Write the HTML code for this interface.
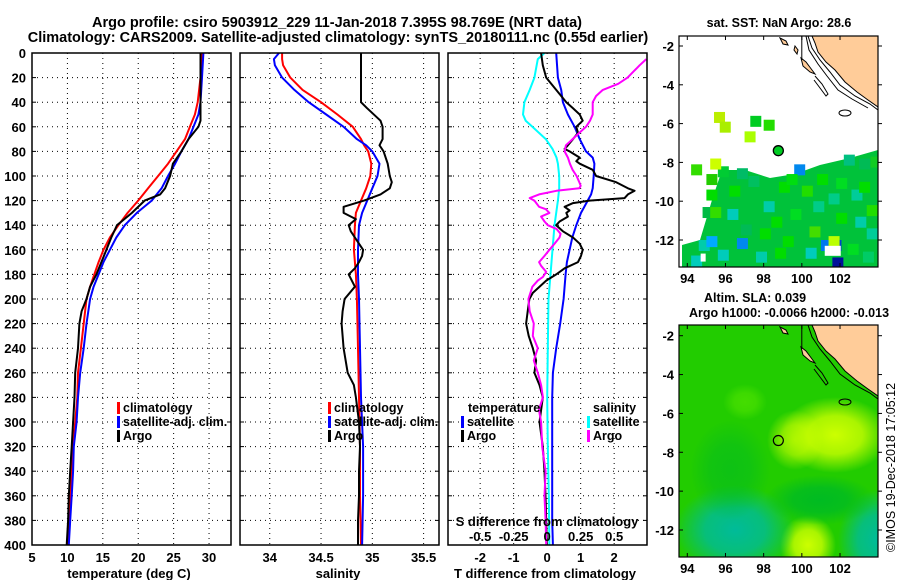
<!DOCTYPE html>
<html><head><meta charset="utf-8">
<style>
html,body{margin:0;padding:0;background:#fff;}
svg{display:block;font-family:"Liberation Sans",Arial,sans-serif;font-weight:bold;}
</style></head>
<body>
<svg id="chart" width="900" height="580" viewBox="0 0 900 580" xmlns="http://www.w3.org/2000/svg">
<text x="337" y="27" text-anchor="middle" font-size="14.5">Argo profile: csiro 5903912_229 11-Jan-2018 7.395S 98.769E (NRT data)</text>
<text x="338" y="42" text-anchor="middle" font-size="14.5">Climatology: CARS2009. Satellite-adjusted climatology: synTS_20180111.nc (0.55d earlier)</text>
<g id="plots"></g>
<g id="maps"></g>
</svg>
<script>
// ---------- data ----------
const depthTicks=[0,20,40,60,80,100,120,140,160,180,200,220,240,260,280,300,320,340,360,380,400];
const tempTicks=[5,10,15,20,25,30];
const salTicks=[34,34.5,35,35.5];
const tdiffTicks=[-2,-1,0,1,2];
const sdiffTicks=[-0.5,-0.25,0,0.25,0.5];
const sdiffLabels=["-0.5","-0.25","0","0.25","0.5"];

const argoTDepth=[0,20,40,55,60,70,80,90,100,110,115,120,130,140,150,160,170,180,190,200,210,220,240,260,280,300,320,340,360,380,400];
const argoT=[28.8,28.8,28.8,28.8,28.5,27.1,26.1,24.9,24.5,23.8,23.1,20.9,19.1,17.0,16.2,15.5,14.8,14.1,13.2,12.7,12.0,11.7,11.5,11.1,11.0,10.8,10.6,10.4,10.2,10.1,9.9];
const climDepth=[0,20,40,50,60,70,80,90,100,110,120,130,140,150,160,170,180,190,200,220,240,260,280,300,320,340,360,380,400];
const climT=[29.0,28.8,28.4,28.0,27.3,26.6,25.4,24.2,22.8,21.4,20.0,18.5,17.2,16.0,15.1,14.4,13.8,13.2,12.7,12.3,11.9,11.5,11.4,11.1,10.8,10.6,10.4,10.3,10.1];
const satT=[29.2,29.0,28.8,28.5,27.8,27.1,26.1,25.2,24.2,23.3,21.9,19.8,18.1,16.9,16.0,15.1,14.4,13.7,13.2,12.7,12.3,11.8,11.5,11.3,10.9,10.8,10.6,10.4,10.2];

const argoSDepth=[0,20,40,45,55,60,70,75,80,90,100,105,110,115,120,125,130,135,140,145,150,155,160,165,170,175,180,185,190,200,210,220,240,260,270,280,300,320,340,360,380,400];
const argoS=[34.89,34.89,34.89,34.95,35.08,35.10,35.10,35.07,35.11,35.15,35.17,35.19,35.17,35.08,34.92,34.72,34.72,34.84,34.77,34.79,34.83,34.87,34.91,34.90,34.87,34.83,34.77,34.80,34.83,34.73,34.71,34.70,34.72,34.76,34.82,34.84,34.87,34.88,34.87,34.87,34.86,34.86];
const climSDepth=[0,5,10,20,30,40,50,60,70,75,80,90,100,110,120,130,140,160,180,200,240,280,320,360,400];
const climS=[34.12,34.12,34.13,34.20,34.32,34.50,34.66,34.81,34.89,34.92,34.96,34.99,34.98,34.94,34.89,34.84,34.83,34.82,34.84,34.85,34.86,34.87,34.88,34.88,34.89];
const satS=[34.09,34.04,34.05,34.12,34.24,34.38,34.55,34.72,34.85,34.94,35.00,35.07,35.05,35.00,34.95,34.90,34.87,34.86,34.86,34.87,34.88,34.89,34.91,34.91,34.90];

const tdArgoDepth=[0,10,20,30,40,45,50,55,60,65,70,75,78,80,85,88,90,95,100,105,110,112,115,118,120,122,125,128,130,133,137,140,145,150,155,160,165,170,175,180,185,190,195,200,210,220,230,240,250,260,270,280,300,320,340,360,380,400];
const tdArgo=[-0.18,-0.13,-0.03,0.27,0.57,0.77,0.97,1.06,0.87,0.92,0.77,0.62,0.52,0.67,0.97,0.87,0.97,1.36,1.46,2.06,2.41,2.61,2.41,2.31,1.26,0.77,0.52,0.67,0.57,0.62,0.37,0.27,0.47,0.77,0.97,1.06,1.01,0.92,0.52,0.27,-0.03,-0.23,-0.43,-0.53,-0.58,-0.63,-0.55,-0.43,-0.33,-0.38,-0.23,-0.13,-0.23,-0.13,-0.08,-0.05,-0.03,-0.01];
const tdSatDepth=[0,20,30,40,50,60,70,80,85,90,100,110,115,120,130,140,150,160,170,180,200,220,240,260,280,300,340,380,400];
const tdSat=[0.27,0.32,0.42,0.47,0.62,0.82,0.97,1.16,1.36,1.41,1.39,1.36,1.31,1.21,1.01,0.87,0.75,0.67,0.59,0.55,0.49,0.39,0.27,0.17,0.15,0.15,0.15,0.15,0.17];
const sdSatDepth=[0,5,20,30,40,50,55,60,70,78,85,90,100,110,120,140,160,180,200,240,280,320,360,400];
const sdSat=[-0.02,-0.07,-0.095,-0.13,-0.17,-0.18,-0.16,-0.11,-0.01,0.04,0.07,0.08,0.09,0.09,0.08,0.055,0.04,0.025,0.01,0.005,0.0,0.005,0.012,0.017];
const sdArgoDepth=[5,10,20,25,30,35,40,45,50,55,60,65,70,75,80,85,90,95,100,105,108,110,112,115,118,120,125,127,130,133,137,140,143,147,150,155,160,165,170,173,178,182,185,190,200,210,220,230,240,250,260,270,280,290,300,320,340,360,380,400];
const sdArgo=[0.74,0.69,0.60,0.53,0.415,0.365,0.34,0.34,0.34,0.32,0.29,0.24,0.19,0.14,0.13,0.155,0.17,0.19,0.22,0.24,0.25,0.24,0.07,-0.06,-0.13,-0.095,-0.06,-0.01,0.017,-0.045,-0.02,0.005,0.07,0.10,0.092,0.055,0.017,-0.02,-0.06,-0.045,-0.007,-0.032,-0.07,-0.11,-0.14,-0.13,-0.10,-0.107,-0.07,-0.10,-0.07,-0.045,-0.032,-0.062,-0.045,-0.037,-0.012,-0.02,-0.012,-0.007];

// ---------- helpers ----------
const NS="http://www.w3.org/2000/svg";
function mk(tag,attrs,parent){const e=document.createElementNS(NS,tag);for(const k in attrs)e.setAttribute(k,attrs[k]);parent.appendChild(e);return e;}
const plots=document.getElementById('plots');
const Y0=53,Y1=545;
function yD(d){return Y0+(Y1-Y0)*d/400;}
const panels=[
 {name:'temperature',x0:32,x1:231,min:5,max:33.1},
 {name:'salinity',x0:240,x1:439,min:33.71,max:35.65},
 {name:'difference',x0:448,x1:647,min:-2.96,max:2.98}
];
function sx(p,v){return p.x0+(v-p.min)/(p.max-p.min)*(p.x1-p.x0);}
function sxS(p,s){return sx(p,s*4);}

depthTicks.forEach(d=>{const t=mk('text',{x:26,y:yD(d)+5,'text-anchor':'end','font-size':13},plots);t.textContent=d;

});

function gridPanel(p,xt){
  const g=mk('g',{},plots);
  
  
  depthTicks.slice(1,-1).forEach(d=>{const l=mk('line',{x1:p.x0,x2:p.x1,y1:yD(d),y2:yD(d),stroke:'#000','stroke-width':1,'stroke-dasharray':'1,4'},g);
  
  
  mk('line',{x1:p.x0,x2:p.x0+4,y1:yD(d),y2:yD(d),stroke:'#000'},g);mk('line',{x1:p.x1-4,x2:p.x1,y1:yD(d),y2:yD(d),stroke:'#000'},g);});
  xt.forEach(v=>{const x=sx(p,v);if(x<=p.x0+1||x>=p.x1-1)return;const l=mk('line',{x1:x,x2:x,y1:Y0,y2:Y1,stroke:'#000','stroke-width':1,'stroke-dasharray':'1,4'},g);
  
  });
  return g;
}
function frame(p){const r=mk('rect',{x:p.x0,y:Y0,width:p.x1-p.x0,height:Y1-Y0,fill:'none',stroke:'#000','stroke-width':1.5},plots);

}
function line(p,vals,deps,color,nm,isS){
  const pts=vals.map((v,i)=>(isS?sxS(p,v):sx(p,v)).toFixed(1)+','+yD(deps[i]).toFixed(1)).join(' ');
  const pl=mk('polyline',{points:pts,fill:'none',stroke:color,'stroke-width':2,'stroke-linejoin':'round'},plots);
  
  
}
function legend(x,y,items){items.forEach((it,i)=>{mk('rect',{x:x,y:y+i*14-10,width:3,height:12,fill:it[0]},plots);
const t=mk('text',{x:x+6,y:y+i*14,'font-size':12.5},plots);t.textContent=it[1];

});}
function xlabels(p,vals,labs,y){vals.forEach((v,i)=>{const t=mk('text',{x:sx(p,v),y:y,'text-anchor':'middle','font-size':13},plots);t.textContent=labs[i];

});}
function title(x,y,s,nm){const t=mk('text',{x:x,y:y,'text-anchor':'middle','font-size':13},plots);t.textContent=s;

}

let p=panels[0];gridPanel(p,tempTicks);
line(p,climT,climDepth,'#ff0000','climatology-temperature-line');
line(p,satT,climDepth,'#0000ff','satellite-temperature-line');
line(p,argoT,argoTDepth,'#000','argo-temperature-line');
frame(p);xlabels(p,tempTicks,tempTicks.map(String),562);
title(129,578,'temperature (deg C)','temperature-axis-title');
legend(117,412,[['#f00','climatology'],['#00f','satellite-adj. clim.'],['#000','Argo']]);
p=panels[1];gridPanel(p,salTicks);
line(p,climS,climSDepth,'#ff0000','climatology-salinity-line');
line(p,satS,climSDepth,'#0000ff','satellite-salinity-line');
line(p,argoS,argoSDepth,'#000','argo-salinity-line');
frame(p);xlabels(p,salTicks,salTicks.map(String),562);
title(338,578,'salinity','salinity-axis-title');
legend(328,412,[['#f00','climatology'],['#00f','satellite-adj. clim.'],['#000','Argo']]);
p=panels[2];gridPanel(p,tdiffTicks);
line(p,tdSat,tdSatDepth,'#0000ff','satellite-t-difference-line');
line(p,sdSat,sdSatDepth,'#00ffff','satellite-s-difference-line',true);
line(p,tdArgo,tdArgoDepth,'#000','argo-t-difference-line');
line(p,sdArgo,sdArgoDepth,'#ff00ff','argo-s-difference-line',true);
frame(p);xlabels(p,tdiffTicks,tdiffTicks.map(String),562);
title(545,578,'T difference from climatology','t-difference-axis-title');
title(547,526,'S difference from climatology','s-difference-axis-title');
sdiffTicks.forEach((v,i)=>{const t=mk('text',{x:sxS(p,v),y:541,'text-anchor':'middle','font-size':13},plots);t.textContent=sdiffLabels[i];

});
let t0=mk('text',{x:468,y:412,'font-size':12.5},plots);t0.textContent='temperature';


legend(461,426,[['#00f','satellite'],['#000','Argo']]);
let t1=mk('text',{x:593,y:412,'font-size':12.5},plots);t1.textContent='salinity';


legend(587,426,[['#0ff','satellite'],['#f0f','Argo']]);

// ---------- maps ----------
const maps=document.getElementById('maps');
const lonTicks=[94,96,98,100,102];
const latTicks=[-2,-4,-6,-8,-10,-12];
function mx(lon){return 687.3+(lon-94)*19.09;}
function makeMap(nm){
  const g=mk('g',{},maps);
  
  
  return g;
}
const m1=makeMap('sst-map');
const my1=lat=>46+(-2-lat)*19.4;
const d1=mk('defs',{},m1);
const cp1=mk('clipPath',{id:'c1'},d1);mk('rect',{x:679,y:36,width:199,height:231},cp1);
const g1=mk('g',{'clip-path':'url(#c1)'},m1);
mk('polygon',{points:'712,200 722,170 745,170 770,178 795,174 820,165 850,158 878,150 878,267 682,267 682,245 700,240',fill:'#00c23a'},g1);
const sstCells=[[94.2,-8.1,'#33dd00'],[95.0,-8.6,'#22cc00'],[95.6,-8.2,'#00cc33'],[96.6,-8.3,'#00bb66'],[97.2,-8.7,'#00c060'],[96.1,-10.4,'#00ccbb'],[94.8,-10.3,'#00bb44'],[95.2,-10.3,'#33dd00'],[99.6,-8.1,'#0088ee'],[102.2,-7.6,'#00c080'],[103.0,-7.8,'#00bb55'],[103.6,-7.7,'#11cc22'],[94.6,-12.0,'#00ccaa'],[95.0,-11.8,'#00aaff'],[96.6,-11.9,'#0088ee'],[95.6,-12.5,'#00ccbb'],[94.2,-12.8,'#00ccbb'],[97.6,-12.6,'#00ccaa'],[101.0,-12.0,'#0077ee'],[101.5,-12.0,'#0044cc'],[101.6,-12.9,'#001199'],[100.2,-12.4,'#00ccbb'],[102.8,-10.8,'#00ccaa'],[101.4,-9.6,'#00cc88'],[98.0,-10.0,'#00ccaa'],[100.4,-11.3,'#44dd00'],[101.4,-11.8,'#bbff00'],[103.2,-12.6,'#00cc66'],[96.8,-11.2,'#00bb55'],[98.8,-9.0,'#00dd00'],[102.6,-9.4,'#00cc99'],[95.4,-5.4,'#bbee00'],[95.7,-5.9,'#aaee00'],[97.3,-5.6,'#00cc22'],[98.0,-5.8,'#22dd00'],[97.0,-6.4,'#aaff00'],[95.2,-7.8,'#ccff00'],
[99.2,-8.6,'#00dd10'],[100.0,-9.2,'#22dd00'],[100.8,-8.6,'#00dd00'],[101.8,-8.8,'#00dd22'],[103.0,-9.0,'#00dd00'],[98.4,-10.8,'#00dd00'],[99.4,-10.4,'#00dd22'],[100.6,-10.0,'#00cc88'],[101.8,-10.6,'#00dd00'],[103.4,-10.2,'#22dd00'],[99.0,-11.8,'#00dd00'],[102.4,-12.2,'#00dd22'],[97.8,-11.4,'#00dd00'],[96.2,-9.2,'#00dd00'],[95.0,-9.4,'#00dd00'],[98.6,-12.4,'#00dd00'],[103.4,-11.4,'#00cc99']];
sstCells.forEach(c=>{const r=mk('rect',{x:mx(c[0]),y:my1(c[1]),width:11,height:11,fill:c[2]},g1);

});
mk('rect',{x:mx(94.7),y:my1(-12.7),width:5,height:8,fill:'#fff'},g1);
mk('rect',{x:mx(101.2),y:my1(-12.3),width:16,height:10,fill:'#fff'},g1);
const land1='812,36 815,43 818,52 826,62 835,70 845,82 857,92 868,100 878,107 878,36';
mk('polygon',{points:land1,fill:'#ffcc99',stroke:'#000','stroke-width':1},g1);
mk('polyline',{points:'808,36 812,48 820,60 830,72 840,85 855,96 870,104 878,110',fill:'none',stroke:'#000','stroke-width':1},g1);
mk('polyline',{points:'806,36 809,50 818,64 827,76 838,90 852,99 868,108',fill:'none',stroke:'#000','stroke-width':1},g1);
mk('polygon',{points:'801,58 806,62 812,70 815,74 810,72 803,66',fill:'#ffcc99',stroke:'#000'},g1);
mk('polygon',{points:'780,38 786,41 788,45 783,44',fill:'#ffcc99',stroke:'#000'},g1);
mk('polygon',{points:'795,46 798,50 797,54 794,50',fill:'#ffcc99',stroke:'#000'},g1);
mk('polyline',{points:'815,76 822,84 828,94 826,96 820,88 814,80',fill:'none',stroke:'#000'},g1);
mk('ellipse',{cx:845,cy:113,rx:6,ry:3,fill:'#fff',stroke:'#000'},g1);
mk('line',{x1:801.8,x2:801.8,y1:36,y2:60,stroke:'#000'},g1);
const ac1=mk('circle',{cx:mx(98.769),cy:my1(-7.395),r:5,fill:'#00cc22',stroke:'#000','stroke-width':1.3},m1);


mk('rect',{x:679,y:36,width:199,height:231,fill:'none',stroke:'#000','stroke-width':1.2},m1);

const m2=makeMap('sla-map');
const my2=lat=>335.7+(-2-lat)*19.43;
const defs=mk('defs',{},m2);
const cp=mk('clipPath',{id:'c2'},defs);mk('rect',{x:679,y:325,width:199,height:232},cp);
function rg(id,c){const r=mk('radialGradient',{id:id},defs);mk('stop',{offset:'0','stop-color':c,'stop-opacity':1},r);mk('stop',{offset:'0.5','stop-color':c,'stop-opacity':0.8},r);mk('stop',{offset:'1','stop-color':c,'stop-opacity':0},r);}
rg('gy','#ccff00');rg('gt','#00bb99');rg('gl','#44dd00');rg('gd','#00bb22');
const g2=mk('g',{'clip-path':'url(#c2)'},m2);
mk('rect',{x:679,y:325,width:199,height:232,fill:'#22cc00'},g2);
mk('ellipse',{cx:835,cy:435,rx:55,ry:38,fill:'url(#gy)'},g2);
mk('ellipse',{cx:795,cy:440,rx:28,ry:30,fill:'url(#gy)','opacity':0.7},g2);
mk('ellipse',{cx:808,cy:545,rx:28,ry:30,fill:'url(#gy)'},g2);
mk('ellipse',{cx:735,cy:530,rx:60,ry:45,fill:'url(#gt)'},g2);
mk('ellipse',{cx:878,cy:540,rx:40,ry:50,fill:'url(#gt)'},g2);
mk('ellipse',{cx:745,cy:402,rx:22,ry:18,fill:'url(#gl)'},g2);
mk('ellipse',{cx:820,cy:500,rx:55,ry:25,fill:'url(#gd)'},g2);
mk('ellipse',{cx:730,cy:470,rx:40,ry:50,fill:'url(#gd)','opacity':0.6},g2);
const land2='812,325 815,332 818,341 826,351 835,359 845,371 857,381 868,389 878,396 878,325';
mk('polygon',{points:land2,fill:'#ffcc99',stroke:'#000'},g2);
mk('polyline',{points:'808,325 812,337 820,349 830,361 840,374 855,385 870,393 878,399',fill:'none',stroke:'#000'},g2);
mk('polygon',{points:'801,347 806,351 812,359 815,363 810,361 803,355',fill:'#ffcc99',stroke:'#000'},g2);
mk('polygon',{points:'780,327 786,330 788,334 783,333',fill:'#ffcc99',stroke:'#000'},g2);
mk('polyline',{points:'815,365 822,373 828,383 826,385 820,377 814,369',fill:'none',stroke:'#000'},g2);
mk('ellipse',{cx:845,cy:402,rx:6,ry:3,fill:'none',stroke:'#000'},g2);
mk('line',{x1:801.8,x2:801.8,y1:325,y2:349,stroke:'#000'},g2);
const ac2=mk('circle',{cx:mx(98.769),cy:my2(-7.395),r:5,fill:'none',stroke:'#000','stroke-width':1.2},m2);


mk('rect',{x:679,y:325,width:199,height:232,fill:'none',stroke:'#000','stroke-width':1.2},m2);
[[m1,my1,267,36],[m2,my2,557,325]].forEach(([g,my,bot,top])=>{
  lonTicks.forEach(l=>{const x=mx(l);mk('line',{x1:x,x2:x,y1:bot,y2:bot-4,stroke:'#000'},g);mk('line',{x1:x,x2:x,y1:top,y2:top+4,stroke:'#000'},g);
   const t=mk('text',{x:x,y:bot+16,'text-anchor':'middle','font-size':13},g);t.textContent=l;
   
   });
  latTicks.forEach(l=>{const y=my(l);mk('line',{x1:679,x2:683,y1:y,y2:y,stroke:'#000'},g);mk('line',{x1:878,x2:882,y1:y,y2:y,stroke:'#000'},g);
   const t=mk('text',{x:674,y:y+5,'text-anchor':'end','font-size':13},g);t.textContent=l;
   
   });
});
function mt(x,y,s,nm,anchor){const t=mk('text',{x:x,y:y,'text-anchor':anchor||'middle','font-size':12.5},maps);t.textContent=s;

}
mt(779,27,'sat. SST: NaN Argo: 28.6','sst-map-title');
mt(755,302,'Altim. SLA: 0.039','sla-map-title');
mt(789,317,'Argo h1000: -0.0066 h2000: -0.013','argo-height-title');
const cr=mk('text',{x:0,y:0,'font-size':12.5,transform:'translate(895,552) rotate(-90)','font-weight':'normal'},maps);cr.textContent='©IMOS 19-Dec-2018 17:05:12';


</script>
</body></html>
